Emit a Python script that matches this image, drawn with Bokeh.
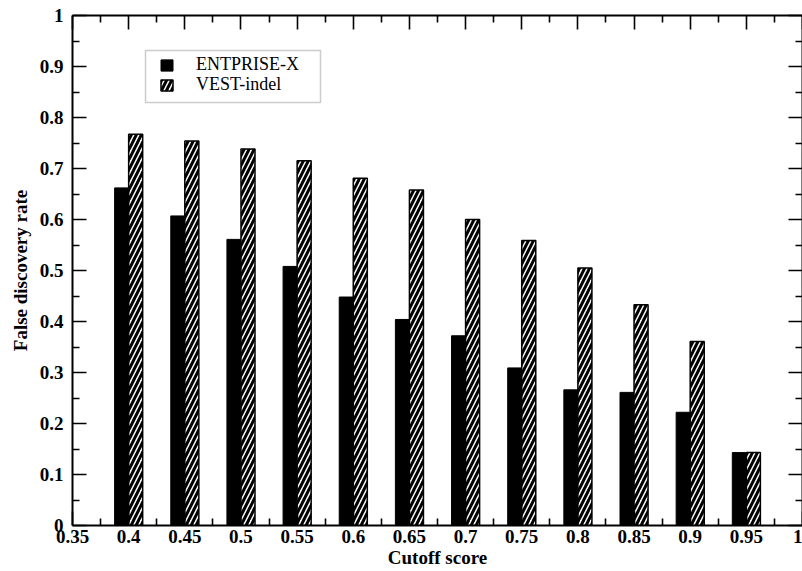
from bokeh.plotting import figure
from bokeh.models import (ColumnDataSource, FixedTicker, LinearAxis, Range1d,
                          Legend, LegendItem, BoxAnnotation)
from bokeh.embed import file_html
from bokeh.resources import INLINE

# ---- data ----
cutoffs = [0.40, 0.45, 0.50, 0.55, 0.60, 0.65, 0.70, 0.75, 0.80, 0.85, 0.90, 0.95]
entprise_x = [0.662, 0.607, 0.561, 0.508, 0.448, 0.404, 0.372, 0.309, 0.266, 0.261, 0.222, 0.143]
vest_indel = [0.767, 0.754, 0.738, 0.715, 0.681, 0.658, 0.600, 0.559, 0.505, 0.433, 0.361, 0.143]
x_ticks = [0.35, 0.40, 0.45, 0.50, 0.55, 0.60, 0.65, 0.70, 0.75, 0.80, 0.85, 0.90, 0.95, 1.0]
x_tick_labels = ["0.35", "0.4", "0.45", "0.5", "0.55", "0.6", "0.65", "0.7", "0.75",
                 "0.8", "0.85", "0.9", "0.95", "1"]
y_ticks = [0.0, 0.1, 0.2, 0.3, 0.4, 0.5, 0.6, 0.7, 0.8, 0.9, 1.0]
y_tick_labels = ["0", "0.1", "0.2", "0.3", "0.4", "0.5", "0.6", "0.7", "0.8", "0.9", "1"]
x_minor = [0.375 + 0.05 * i for i in range(13)]
y_minor = [0.05 + 0.1 * i for i in range(10)]
bar_w = 0.0125

FONT = "Liberation Serif"

src = ColumnDataSource(dict(
    x1=[c - bar_w / 2 for c in cutoffs],
    x2=[c + bar_w / 2 for c in cutoffs],
    e=entprise_x, v=vest_indel))

p = figure(width=802, height=571, output_backend="svg", toolbar_location=None,
           x_range=Range1d(0.35, 1.0), y_range=Range1d(0, 1),
           min_border_left=72, min_border_right=0, min_border_top=15,
           min_border_bottom=46, outline_line_color=None,
           background_fill_color="white", border_fill_color="white")
p.xgrid.visible = False
p.ygrid.visible = False

r1 = p.vbar(x="x1", top="e", width=bar_w, source=src, fill_color="black",
            line_color="black", line_width=1)
r2 = p.vbar(x="x2", top="v", width=bar_w, source=src, fill_color="white",
            line_color="black", line_width=1.5, hatch_pattern="/",
            hatch_color="black", hatch_scale=10, hatch_weight=3)

xfmt = {t: l for t, l in zip(x_ticks, x_tick_labels)}
yfmt = {t: l for t, l in zip(y_ticks, y_tick_labels)}


def style(ax, labels=True):
    ax.axis_line_width = 2
    ax.axis_line_color = "black"
    ax.major_tick_in = 14
    ax.major_tick_out = 0
    ax.minor_tick_in = 7
    ax.minor_tick_out = 0
    ax.major_tick_line_width = 1.6
    ax.minor_tick_line_width = 1.6
    ax.major_tick_line_color = "black"
    ax.minor_tick_line_color = "black"
    if labels:
        ax.major_label_text_font = FONT
        ax.major_label_text_font_style = "bold"
        ax.major_label_text_font_size = "19px"
        ax.major_label_text_color = "black"
    else:
        ax.major_label_text_font_size = "0px"
        ax.major_label_standoff = 0


xa = p.xaxis[0]
xa.ticker = FixedTicker(ticks=x_ticks, minor_ticks=x_minor)
xa.major_label_overrides = xfmt
style(xa)
xa.major_label_standoff = 4
xa.axis_label = "Cutoff score"
xa.axis_label_standoff = 1
xa.axis_label_text_font = FONT
xa.axis_label_text_font_style = "bold"
xa.axis_label_text_font_size = "19px"
xa.axis_label_text_color = "black"

ya = p.yaxis[0]
ya.ticker = FixedTicker(ticks=y_ticks, minor_ticks=y_minor)
ya.major_label_overrides = yfmt
style(ya)
ya.major_label_standoff = 9
ya.axis_label = "False discovery rate"
ya.axis_label_standoff = 6
ya.axis_label_text_font = FONT
ya.axis_label_text_font_style = "bold"
ya.axis_label_text_font_size = "19px"
ya.axis_label_text_color = "black"

top = LinearAxis(ticker=FixedTicker(ticks=x_ticks, minor_ticks=x_minor))
style(top, labels=False)
top.major_label_overrides = {t: "" for t in x_ticks}
p.add_layout(top, "above")

right = LinearAxis(ticker=FixedTicker(ticks=y_ticks, minor_ticks=y_minor))
style(right, labels=False)
right.major_label_overrides = {t: "" for t in y_ticks}
p.add_layout(right, "right")

# legend frame (canvas pixels)
box = BoxAnnotation(left=145, right=320, top=50, bottom=102,
                    left_units="canvas", right_units="canvas",
                    top_units="canvas", bottom_units="canvas",
                    fill_color="white", fill_alpha=1,
                    line_color="#555555", line_width=1.5)
p.add_layout(box)

legend_kw = dict(orientation="vertical", label_text_font=FONT,
                 label_text_font_size="18px", label_text_color="black",
                 glyph_width=15, glyph_height=14, label_height=15,
                 label_standoff=22, spacing=0, padding=0, margin=0,
                 border_line_color=None, background_fill_alpha=0)
leg1 = Legend(items=[LegendItem(label="ENTPRISE-X", renderers=[r1])],
              location=(87, 450), **legend_kw)
leg2 = Legend(items=[LegendItem(label="VEST-indel", renderers=[r2])],
              location=(87, 430), **legend_kw)
p.add_layout(leg1)
p.add_layout(leg2)

open("out.html", "w").write(file_html(p, INLINE))
